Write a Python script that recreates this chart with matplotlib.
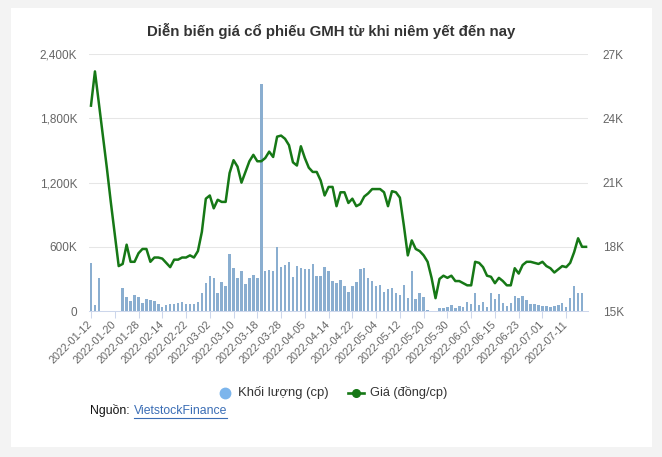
import matplotlib
matplotlib.use("Agg")
import matplotlib.pyplot as plt
from matplotlib.patches import Rectangle
from matplotlib.lines import Line2D
import numpy as np

plt.rcParams['font.family'] = ['Liberation Sans', 'DejaVu Sans']

title = "Diễn biến giá cổ phiếu GMH từ khi niêm yết đến nay"
tick_labels = ["2022-01-12", "2022-01-20", "2022-01-28", "2022-02-14", "2022-02-22",
               "2022-03-02", "2022-03-10", "2022-03-18", "2022-03-28", "2022-04-05",
               "2022-04-14", "2022-04-22", "2022-05-04", "2022-05-12", "2022-05-20",
               "2022-05-30", "2022-06-07", "2022-06-15", "2022-06-23", "2022-07-01",
               "2022-07-11"]

# price, thousand VND (right axis)
price = [24.6, 26.2, 24.7, 23.2, 21.7, 20.1, 18.6, 17.1, 17.2, 18.1,
         17.3, 17.3, 17.7, 17.9, 17.9, 17.3, 17.5, 17.5, 17.45, 17.25,
         17.05, 17.4, 17.4, 17.5, 17.5, 17.6, 17.5, 17.8, 18.7, 20.25,
         20.4, 19.8, 20.2, 20.1, 20.1, 21.45, 22.05, 21.75, 21.0, 21.5,
         22.0, 22.3, 22.0, 22.0, 22.15, 22.45, 22.2, 23.15, 23.2, 23.05,
         22.75, 21.95, 21.8, 22.7, 22.15, 21.7, 21.5, 21.5, 21.1, 20.4,
         20.8, 20.8, 19.9, 20.55, 20.55, 20.05, 20.25, 19.9, 20.0, 20.35,
         20.5, 20.7, 20.7, 20.7, 20.55, 19.9, 20.6, 20.55, 20.3, 19.0,
         17.6, 18.3, 17.9, 17.8, 17.6, 17.3, 16.55, 15.6, 16.5, 16.65,
         16.55, 16.65, 16.4, 16.4, 16.3, 16.2, 16.2, 17.3, 17.25, 17.05,
         16.65, 16.6, 16.3, 16.55, 16.4, 16.2, 16.2, 17.0, 16.75, 17.15,
         17.3, 17.3, 17.25, 17.2, 17.3, 17.1, 17.0, 16.8, 16.95, 17.1,
         17.05, 17.25, 17.75, 18.4, 18.0, 18.0]

# volume, thousand shares (left axis)
volume = [445, 56, 311, 0, 0, 0, 0, 0, 218, 131,
          93, 149, 128, 72, 112, 103, 93, 62, 34, 56,
          62, 62, 72, 81, 65, 68, 65, 81, 171, 264,
          330, 311, 171, 274, 236, 532, 405, 311, 374, 255,
          305, 336, 311, 2120, 374, 383, 374, 598, 411, 430,
          455, 320, 423, 405, 392, 389, 439, 327, 327, 411,
          374, 280, 264, 289, 233, 180, 233, 271, 392, 405,
          311, 280, 236, 243, 180, 202, 211, 171, 149, 243,
          118, 374, 112, 171, 134, 10, 0, 0, 31, 31,
          40, 56, 31, 47, 40, 87, 62, 171, 56, 87,
          40, 171, 112, 155, 72, 50, 72, 143, 124, 143,
          103, 62, 62, 56, 50, 50, 40, 50, 56, 72,
          40, 118, 233, 165, 171, 0]

W, H = 662, 457
fig = plt.figure(figsize=(W / 100, H / 100), dpi=100)
fig.patch.set_facecolor('#f3f3f3')

def fx(x):
    return x / W

def fy(y):
    return 1 - y / H

fig.add_artist(Rectangle((fx(10.5), fy(447)), fx(652) - fx(10.5), fy(8) - fy(447),
                         transform=fig.transFigure, facecolor='white', edgecolor='none', zorder=0))

L, R, T, B = 89, 588, 54.3, 311
ax = fig.add_axes([fx(L), fy(B), fx(R) - fx(L), fy(T) - fy(B)])
ax.set_facecolor('none')
ax2 = ax.twinx()

x = np.arange(len(price))
ax.bar(x, volume, width=0.62, color='#8aaed0', zorder=2)
ax2.plot(x, price, color='#167816', lw=1.8, solid_joinstyle='round', zorder=3)

ax.set_xlim(-0.5, len(price) - 0.5)
ax.set_ylim(0, 2400)
ax2.set_ylim(15, 27)

lticks = [0, 600, 1200, 1800, 2400]
ax.set_yticks(lticks)
ax.set_yticklabels(["0", "600K", "1,200K", "1,800K", "2,400K"])
rticks = [15, 18, 21, 24, 27]
ax2.set_yticks(rticks)
ax2.set_yticklabels(["15K", "18K", "21K", "24K", "27K"])

for v in lticks[1:]:
    ax.axhline(v, color='#e6e6e6', lw=0.75, zorder=1)

tick_pos = np.arange(0, 6 * len(tick_labels), 6)
ax.set_xticks(tick_pos)
ax.set_xticklabels(tick_labels, rotation=45, ha='right', va='center', rotation_mode='anchor')

lab_col = '#666666'
ax.tick_params(axis='x', length=5, width=0.75, color='#ccd6eb', pad=3.5, labelsize=7.8, labelcolor=lab_col)
ax.tick_params(axis='y', length=0, pad=8.5, labelsize=8.5, labelcolor=lab_col)
ax2.tick_params(axis='y', length=0, pad=10.5, labelsize=8.5, labelcolor=lab_col)

for a in (ax, ax2):
    for s in a.spines.values():
        s.set_visible(False)
ax.spines['bottom'].set_visible(True)
ax.spines['bottom'].set_color('#ccd6eb')
ax.spines['bottom'].set_linewidth(0.75)

fig.text(fx(331.5), fy(31), title, ha='center', va='center', fontsize=10.8,
         fontweight='bold', color='#333333')

# legend
fig.add_artist(Line2D([fx(224.5)], [fy(392.5)], marker='o', markersize=7.5, color='#7cb5ec',
                      linestyle='none', transform=fig.transFigure))
fig.text(fx(238), fy(392.5), "Khối lượng (cp)", ha='left', va='center', fontsize=9.4, color='#333333')
fig.add_artist(Line2D([fx(348), fx(364)], [fy(392.5), fy(392.5)], color='#167816', lw=1.9,
                      transform=fig.transFigure))
fig.add_artist(Line2D([fx(356)], [fy(392.5)], marker='o', markersize=5.5, color='#167816',
                      linestyle='none', transform=fig.transFigure))
fig.text(fx(370), fy(392.5), "Giá (đồng/cp)", ha='left', va='center', fontsize=9.2, color='#333333')

# source
t1 = fig.text(fx(90.5), fy(410.5), "Nguồn: ", ha='left', va='center', fontsize=8.8, color='#111111')
fig.canvas.draw()
r = fig.canvas.get_renderer()
bb = t1.get_window_extent(r)
t2 = fig.text(bb.x1 / W, fy(410.5), "VietstockFinance", ha='left', va='center', fontsize=8.8, color='#3a6db5')
bb2 = t2.get_window_extent(r)
fig.add_artist(Line2D([bb2.x0 / W, bb2.x1 / W], [fy(417.5), fy(417.5)], color='#3a6db5', lw=0.8,
                      transform=fig.transFigure))

fig.savefig("out.png", dpi=100, facecolor=fig.get_facecolor())
